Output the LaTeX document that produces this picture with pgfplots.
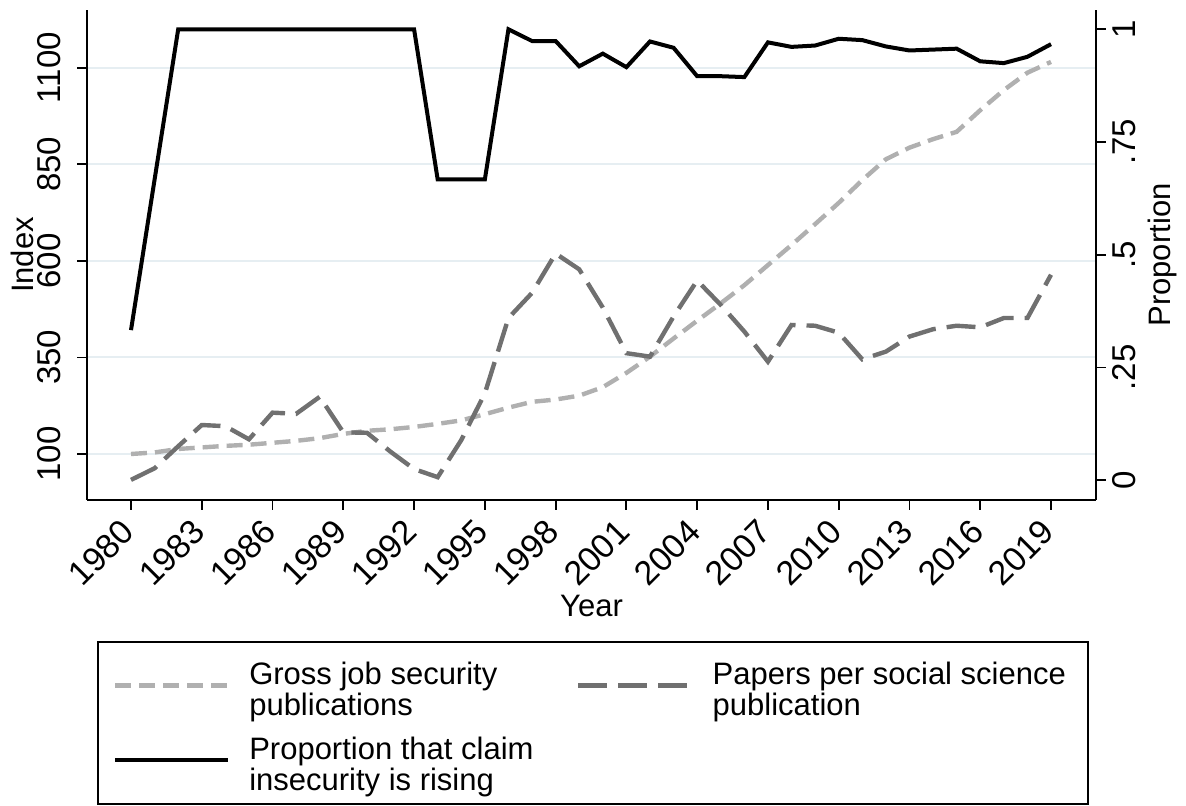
\documentclass[border=0pt]{standalone}
\usepackage{fontspec}
\setmainfont{Liberation Sans}
\usepackage{pgfplots}
\usepackage{pgfplotstable}
\pgfplotsset{compat=1.18}
\definecolor{grossc}{RGB}{176,176,176}
\definecolor{papc}{RGB}{112,112,112}
\definecolor{gridc}{RGB}{230,238,242}

\pgfplotstableread{
year gross papers prop
1980 100 33 0.333
1981 104 63 0.667
1982 113 120 1
1983 117 175 1
1984 121 172 1
1985 124 138 1
1986 129 207 1
1987 134 204 1
1988 141 248 1
1989 152 156 1
1990 160 155 1
1991 164 106 1
1992 170 61 1
1993 178 40 0.667
1994 187 136 0.667
1995 203 257 0.667
1996 220 452 1
1997 235 517 0.974
1998 241 619 0.974
1999 251 578 0.918
2000 273 479 0.946
2001 310 361 0.916
2002 352 352 0.973
2003 399 456 0.959
2004 445 549 0.896
2005 490 486 0.896
2006 537 417 0.894
2007 589 339 0.971
2008 641 434 0.961
2009 695 432 0.964
2010 750 414 0.979
2011 809 345 0.976
2012 863 365 0.962
2013 893 404 0.953
2014 915 423 0.955
2015 934 432 0.957
2016 990 428 0.929
2017 1042 452 0.925
2018 1087 452 0.939
2019 1115 564 0.967
}\datatable

\pgfplotsset{
 base/.style={
  scale only axis, width=504.2pt, height=245pt,
  at={(0pt,0pt)}, anchor=south west,
  xmin=1978.147, xmax=2020.895,
  /pgf/number format/assume math mode=true,
  /pgf/number format/1000 sep={},
  axis line style={line width=0.9pt,-},
  tick style={line width=0.9pt,black},
  major tick length=5pt,
  tick align=outside,
  tick label style={font=\fontsize{16.5}{18}\selectfont},
  label style={font=\fontsize{15.5}{17}\selectfont},
 }
}

\begin{document}
\begin{tikzpicture}[font=\fontsize{15.5}{15.5}\selectfont]
\path[use as bounding box] (-43.65pt,-153pt) rectangle (549.35pt,250pt);
\begin{axis}[base,
  axis x line*=bottom, axis y line*=left,
  ymin=-19.1, ymax=1249.4,
  ytick={100,350,600,850,1100},
  xtick={1980,1983,...,2019},
  ymajorgrids, grid style={gridc, line width=1pt},
  xticklabel style={font=\fontsize{17}{19}\selectfont, yshift=-5.5pt, xshift=1pt, rotate=45, anchor=east},
  yticklabel style={xshift=-4.5pt, rotate=90, anchor=south},
  xlabel={Year}, ylabel={Index},
  xlabel style={at={(axis description cs:0.5,-0.216)}, anchor=center},
  ylabel style={at={(axis description cs:-0.0648,0.5)}, anchor=center},
]
\addplot[grossc, line width=2.2pt, dash pattern=on 8pt off 4pt] table[x=year,y=gross]{\datatable};
\addplot[papc, line width=2.2pt, dash pattern=on 14.5pt off 5.5pt] table[x=year,y=papers]{\datatable};
\end{axis}
\begin{axis}[base,
  axis x line=none, axis y line*=right,
  ymin=-0.0437, ymax=1.0428,
  ytick={0,0.25,0.5,0.75,1}, yticklabels={0,.25,.5,.75,1},
  yticklabel style={rotate=90, anchor=north},
  ylabel={Proportion},
  ylabel style={at={(axis description cs:1.0667,0.5)}, anchor=center},
  legend columns=2,
  legend style={at={(axis description cs:0.0096,-0.2878)}, anchor=north west,
    draw=black, line width=0.9pt, inner xsep=7.5pt, inner ysep=3pt,
    font=\fontsize{15.5}{15.5}\selectfont,
    nodes={inner sep=0pt, anchor=west, minimum height=37.5pt}, column sep=0pt, row sep=0pt,
    /tikz/every odd column/.append style={column sep=9.5pt},
    /tikz/every even column/.append style={column sep=10.5pt}},
  legend image code/.code={\draw[#1] (0pt,0pt) -- (56.5pt,0pt);},
]
\addlegendimage{grossc, line width=2.2pt, dash pattern=on 8pt off 4pt}
\addlegendentry{\raisebox{3pt}{\parbox{153pt}{Gross job security\\publications}}}
\addlegendimage{papc, line width=2.2pt, dash pattern=on 14.5pt off 5.5pt}
\addlegendentry{\raisebox{3pt}{\parbox{180pt}{Papers per social science\\publication}}}
\addplot[black, line width=2pt] table[x=year,y=prop]{\datatable};
\addlegendentry{\raisebox{3pt}{\parbox{153pt}{Proportion that claim\\insecurity is rising}}}
\end{axis}
\end{tikzpicture}
\end{document}
